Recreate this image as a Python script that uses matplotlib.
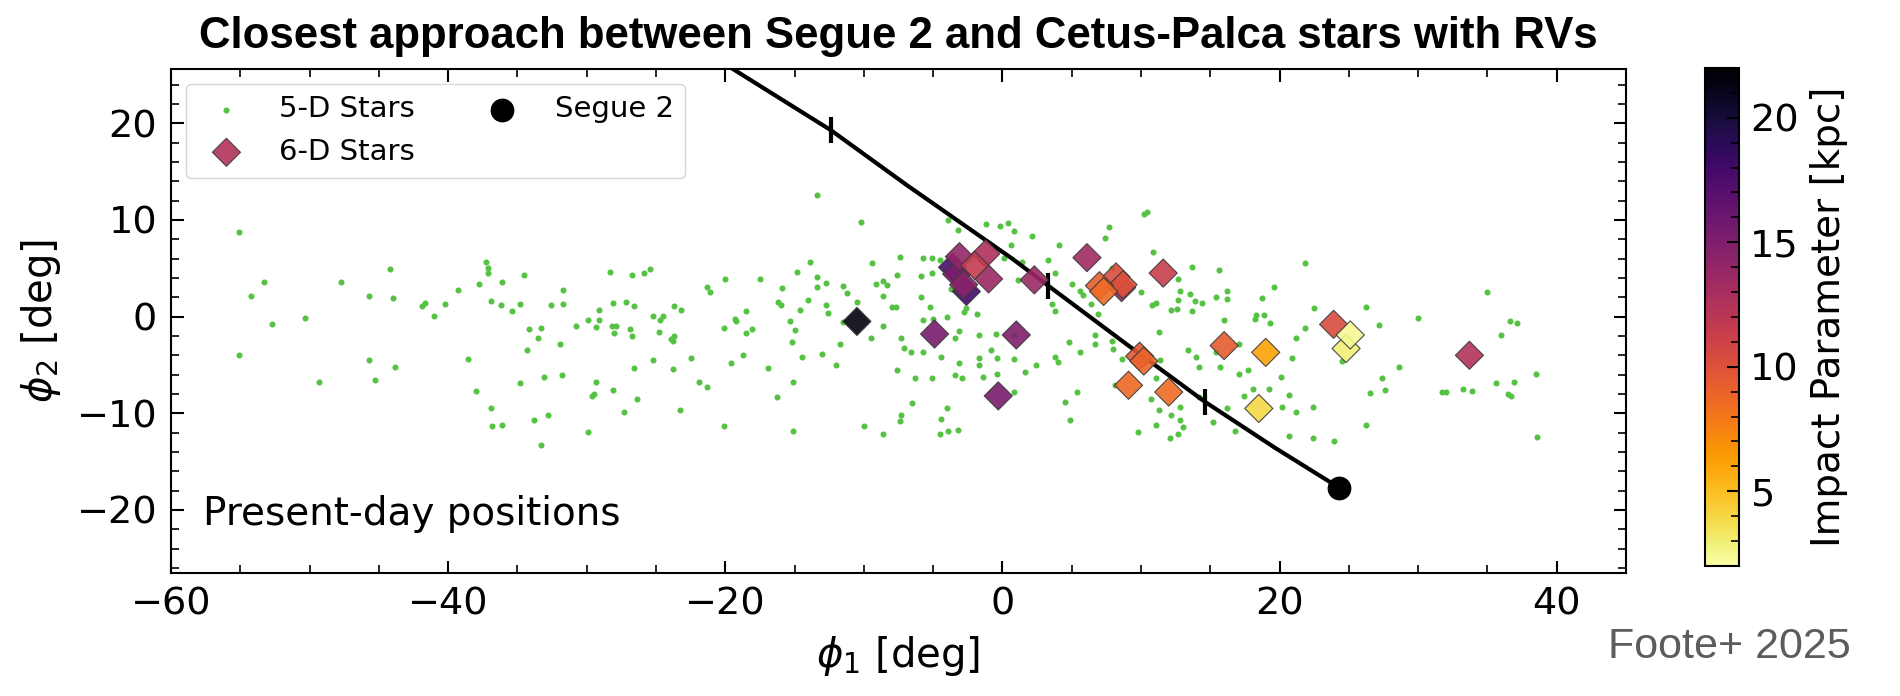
import matplotlib
matplotlib.use("Agg")
import matplotlib.pyplot as plt
from matplotlib.ticker import MultipleLocator

# 5-D stars (no RV)
phi1_5d = [
    -55.1, -53.3, -54.2, -52.7, -55.1, -50.3, -49.3, -47.7, -44.2, -45.7, -44.0, -45.7,
    -45.3, -43.8, -41.9, -41.7, -41.0, -40.2, -39.3, -37.8, -38.6, -38.0,
    -37.3, -37.1, -37.1, -36.1, -34.5, -36.9, -36.2, -35.4, -34.8, -31.7, -31.7, -32.6,
    -34.2, -33.3, -33.5, -34.3, -31.9, -30.8, -29.9, -29.1, -29.1, -29.3, -28.3, -28.1,
    -28.2, -27.9, -28.0, -27.2, -26.6, -26.9, -26.7, -26.7, -25.9, -25.4, -25.2, -24.7,
    -24.5, -24.8, -23.7, -23.2, -23.9, -23.7, -23.8, -25.2, -26.6, -23.8, -22.5, -21.3,
    -21.1, -20.0, -20.1, -19.2, -19.3, -18.5, -18.5, -19.6, -18.7, -21.9, -21.3, -34.8,
    -33.1, -31.8, -29.3, -29.5, -29.6, -28.1, -26.4, -36.9, -36.8, -36.1, -33.8, -32.8,
    -33.3, -29.9, -27.3, -23.3, -20.1,
    -13.4, -10.2, -17.5, -15.9, -14.8, -13.9, -13.4, -13.4, -12.7, -16.2, -16.0, -14.6,
    -14.0, -12.7, -12.6, -15.3, -15.0, -15.2, -14.5, -13.0, -12.0, -11.7, -11.5, -11.2,
    -11.5, -10.5, -9.4, -9.1, -8.6, -8.3, -8.6, -8.0, -7.7, -8.6, -9.5, -7.6,
    -7.4, -7.3, -7.1, -6.6, -7.6, -6.3, -5.9, -5.9, -5.7, -5.1, -4.5, -5.1,
    -5.2, -5.7, -5.0, -5.7, -5.1, -4.4, -4.0, -3.4, -3.1, -3.1, -3.4, -2.9,
    -2.8, -2.6, -1.8, -1.7, -1.7, -1.7, -0.8, -0.5, -0.4, -1.4, -0.4, 0.8,
    0.8, 0.8, -3.9, -3.2, -1.2, -0.2, 0.4, 0.8, 0.6, 0.1, -3.7, -4.0,
    -4.4, -4.5, -3.9, -3.2, -6.5, -7.3, -7.4, -8.6, -10.0, -15.1, -16.3, -15.1,
    -16.9, -18.1,
    10.2, 10.4, 7.7, 7.4, 2.1, 4.1, 3.3, 1.4, 1.1, 3.8, 5.0, 5.6,
    5.8, 6.4, 6.9, 7.9, 10.9, 13.7, 12.7, 12.8, 13.5, 13.9, 14.4, 12.7,
    12.6, 12.2, 13.7, 10.8, 11.1, 10.0, 15.6, 15.4, 16.2, 16.2, 16.0, 18.7,
    19.6, 18.3, 18.2, 18.9, 19.3, 3.6, 3.8, 4.8, 5.6, 6.7, 6.7, 7.9,
    8.0, 8.6, 3.8, 4.0, 2.4, 1.6, 4.5, 5.4, 4.9, 8.1, 9.8, 10.7,
    11.1, 11.3, 11.3, 11.4, 11.1, 12.2, 12.8, 13.0, 12.7, 12.1, 12.8, 14.2,
    13.4, 14.0, 14.2, 15.7, 15.4, 17.1, 17.1, 17.7, 17.4, 18.1, 19.2, 15.2,
    16.2, 16.8,
    21.8, 22.5, 21.8, 21.2, 20.9, 20.1, 20.7, 20.2, 21.2, 22.4, 20.7, 22.4,
    23.9, 26.2, 27.2, 24.5, 28.6, 27.4, 27.6, 26.5, 26.2, 30.0, 35.0, 36.6,
    37.1, 36.0, 31.7, 32.0, 33.2, 33.9, 35.6, 36.9, 36.5, 36.7, 38.5, 38.6,
]
phi2_5d = [
    8.7, 3.6, 2.1, -0.8, -4.0, -0.1, -6.8, 3.6, 4.9, 2.1, 1.9, -4.5,
    -6.6, -5.2, 1.1, 1.4, 0.1, 1.3, 2.8, 3.4, -4.4, -7.7,
    5.7, 5.0, 4.5, 3.6, 4.3, 1.6, 1.2, 0.6, 1.3, 2.8, 1.3, 1.2,
    -1.3, -1.2, -2.2, -3.5, -2.8, -1.0, -0.4, 0.7, -0.4, -1.1, 4.6, 1.4,
    -1.0, -1.0, -1.7, 1.5, 1.1, -1.3, -2.0, 4.3, 4.5, 4.9, 0.1, -0.4,
    0.1, -1.6, 1.1, 0.7, -2.3, -2.0, -2.5, -4.5, -5.3, -5.4, -4.3, 3.1,
    2.5, 3.9, -1.2, -0.5, -0.2, 0.6, -1.7, -4.8, -4.0, -6.8, -7.3, -6.9,
    -6.2, -6.0, -6.8, -8.0, -8.2, -7.6, -8.5, -9.5, -11.3, -11.2, -10.7, -10.2,
    -13.3, -11.9, -9.9, -9.7, -11.3,
    12.6, 9.8, 3.9, 3.0, 4.6, 5.6, 4.1, 3.1, 3.5, 1.5, 1.2, 0.7,
    1.7, 1.2, 0.4, -0.5, -1.4, -2.6, -4.2, -3.9, -5.0, -2.8, 3.2, 2.4,
    -0.6, 1.5, 5.5, 3.4, 3.7, 3.3, 2.1, 1.0, 1.0, -1.0, -2.2, 4.3,
    6.2, -2.2, -3.2, -3.7, -5.5, -6.3, 2.0, 4.2, 6.1, 6.1, 5.9, 4.5,
    1.0, -0.3, -0.2, -3.7, -6.3, -4.2, 0.0, -2.2, -1.5, -4.8, -6.0, -6.4,
    0.5, 0.9, 0.3, -1.9, -4.3, -5.0, -3.5, -1.8, -4.3, -6.2, -5.9, -1.9,
    -4.4, -7.8, 10.0, 9.0, 9.6, 9.4, 9.7, 8.9, 7.4, 6.1, 2.9, -9.5,
    -10.6, -12.1, -11.8, -11.7, -8.9, -10.2, -10.8, -12.1, -11.3, -11.8, -8.3, -6.8,
    -5.3, -1.3,
    10.6, 10.8, 9.3, 8.1, 8.3, 7.4, 5.9, 5.7, 3.8, 4.5, 3.4, 2.7,
    2.2, 1.3, 0.3, 5.0, 6.7, 5.1, 3.9, 2.6, 2.3, 1.6, 1.4, 1.7,
    0.8, 0.7, 0.6, 1.2, 1.4, 2.5, 4.8, 2.0, 2.6, 1.8, -0.4, 1.9,
    3.1, 0.2, -0.2, 0.2, -0.7, 1.3, 0.6, -2.6, -3.7, -1.9, -2.8, -2.5,
    -3.3, -4.4, -4.2, -4.7, -5.0, -5.7, -8.8, -7.8, -10.7, -7.1, -11.9, -8.5,
    -11.2, -9.7, -1.6, -4.5, -6.3, -10.2, -10.7, -11.4, -12.1, -12.6, -9.4, -8.3,
    -3.5, -4.2, -5.2, -5.2, -3.7, -2.8, -5.9, -5.5, -8.2, -7.5, -7.5, -10.9,
    -9.5, -11.8,
    5.5, 0.9, -1.2, -2.2, -4.3, -6.2, -8.1, -9.3, -9.9, -9.4, -12.3, -12.6,
    -12.9, 1.0, -0.9, -4.6, -5.2, -6.4, -7.6, -7.9, -11.2, -0.1, 2.5, -0.5,
    -0.7, -1.9, -7.8, -7.8, -7.5, -7.7, -6.9, -6.8, -8.0, -8.2, -5.9, -12.5,
]

# 6-D stars (with RVs) and their impact parameter [kpc]
phi1_6d = [33.7, -10.5, -4.9, -0.3, 1.0, -3.6, -2.6, -3.3, -2.8, -3.1, -1.0, -1.2,
           -2.0, 2.3, 6.1, 8.6, 8.2, 8.7, 7.0, 7.3, 11.6, 9.9, 10.2, 9.1,
           12.0, 16.0, 19.0, 18.5, 23.9, 24.8, 25.1]
phi2_6d = [-4.0, -0.5, -1.8, -8.2, -1.9, 5.1, 2.6, 4.4, 3.3, 6.2, 3.9, 6.5,
           5.3, 3.8, 6.1, 3.0, 4.1, 3.3, 3.2, 2.6, 4.5, -4.1, -4.6, -7.1,
           -7.8, -3.0, -3.7, -9.5, -0.8, -3.3, -1.9]
impact_6d = [12.4, 21.5, 15.3, 15.3, 15.0, 17.5, 18.0, 15.2, 14.5, 14.0, 13.6, 12.6,
             11.6, 13.6, 13.4, 14.0, 10.3, 10.0, 9.2, 8.6, 11.3, 9.6, 9.0, 8.7,
             8.5, 9.4, 6.2, 4.0, 10.3, 3.0, 2.4]

# Segue 2 orbit track and present-day position
track_phi1 = [-21.0, -12.4, -6.9, 0.7, 3.3, 9.0, 14.6, 19.7, 24.3]
track_phi2 = [27.0, 19.3, 13.6, 6.0, 3.2, -2.9, -8.8, -13.6, -17.7]
tick_phi1 = [-12.4, 3.3, 14.6]
tick_phi2 = [19.3, 3.2, -8.8]
seg_phi1 = [24.3]
seg_phi2 = [-17.7]

fig = plt.figure(figsize=(19, 6.96), dpi=100)
ax = fig.add_axes([0.09, 0.177, 0.7658, 0.7237])
cax = fig.add_axes([0.8974, 0.1868, 0.0179, 0.7155])

ax.scatter(phi1_5d, phi2_5d, s=19, color="#55c244", linewidths=0, label="5-D Stars", zorder=1)
ax.plot(track_phi1, track_phi2, color="k", lw=3, zorder=2)
ax.plot(tick_phi1, tick_phi2, ls="none", marker="|", ms=19, mew=3, color="k", zorder=2)
sc = ax.scatter(phi1_6d, phi2_6d, c=impact_6d, cmap="inferno_r", vmin=2, vmax=22,
                marker="D", s=205, edgecolors="#3a3a3a", linewidths=0.8, alpha=0.9,
                label="6-D Stars", zorder=3)
ax.scatter(seg_phi1, seg_phi2, s=260, color="k", label="Segue 2", zorder=4)

ax.set_xlim(-60, 45)
ax.set_ylim(-26.5, 25.6)
ax.xaxis.set_major_locator(MultipleLocator(20))
ax.xaxis.set_minor_locator(MultipleLocator(5))
ax.yaxis.set_major_locator(MultipleLocator(10))
ax.yaxis.set_minor_locator(MultipleLocator(2))
ax.tick_params(which="both", direction="in", top=True, right=True, labelsize=27.5, pad=10)
ax.tick_params(which="major", length=9, width=1.5)
ax.tick_params(which="minor", length=5.5, width=1.2)
for sp in ax.spines.values():
    sp.set_linewidth(1.5)

ax.set_xlabel(r"$\phi_1$ [deg]", fontsize=29, labelpad=8)
ax.set_ylabel(r"$\phi_2$ [deg]", fontsize=29, labelpad=10)
ax.set_title("Closest approach between Segue 2 and Cetus-Palca stars with RVs",
             fontsize=31.5, fontweight="bold", family="Liberation Sans", pad=15)
ax.text(-57.7, -21.6, "Present-day positions", fontsize=28, va="baseline")
ax.legend(loc="upper left", ncol=2, fontsize=21)

cb = fig.colorbar(plt.cm.ScalarMappable(norm=sc.norm, cmap=sc.cmap), cax=cax)
cb.set_ticks([5, 10, 15, 20])
cb.ax.yaxis.set_minor_locator(MultipleLocator(1))
cb.ax.tick_params(which="both", direction="in", labelsize=27.5, pad=8)
cb.ax.tick_params(which="major", length=9, width=1.5)
cb.ax.tick_params(which="minor", length=5.5, width=1.2)
cb.outline.set_linewidth(1.5)
cb.set_label("Impact Parameter [kpc]", fontsize=28, labelpad=8)

fig.text(0.8463, 0.0546, "Foote+ 2025", fontsize=31, color="#5c5c5c",
         family="Liberation Sans", va="baseline")

fig.savefig("out.png", dpi=100)
